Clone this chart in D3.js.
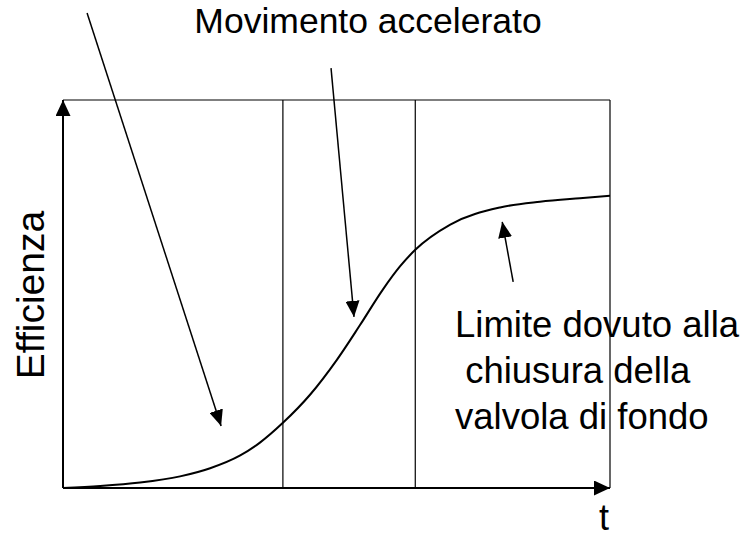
<!DOCTYPE html>
<html>
<head>
<meta charset="utf-8">
<script src="https://cdn.jsdelivr.net/npm/d3@7"></script>
<style>
  body { margin: 0; background: #fff; }
  text { font-family: "Liberation Sans", Arial, sans-serif; fill: #000; }
</style>
</head>
<body>
<div id="graph"></div>
<script>
const width = 744
const height = 538

// curve: time (0-100) vs efficiency (0-100)
const tValues = [0, 6.8, 14.1, 21.4, 26.9, 32.4, 36.0, 40.2, 45.2, 50.1, 54.3, 58.5, 61.6, 64.4, 70.8, 79.9, 87.2, 94.5, 100]
const effValues = [0, 0.5, 1.4, 3.0, 5.1, 8.4, 11.7, 16.8, 24.1, 33.1, 42.0, 51.2, 57.1, 61.4, 67.9, 72.3, 73.8, 74.7, 75.3]

// phase separators
const phaseBounds = [40.2, 64.4]

// annotation arrows [tail t, tail eff, tip t, tip eff]
const arrows = [
  [4.4, 122.4, 28.9, 16.0],
  [49.0, 108.2, 53.2, 44.1],
  [82.3, 53.1, 80.3, 68.6]
]

const title = 'Movimento accelerato'
const yLabel = 'Efficienza'
const xLabel = 't'
const noteLines = ['Limite dovuto alla', ' chiusura della', 'valvola di fondo']

const svg = d3.select('#graph')
  .append('svg')
  .attr('width', width)
  .attr('height', height)

const xScale = d3.scaleLinear().domain([0, 100]).range([63, 610])
const yScale = d3.scaleLinear().domain([0, 100]).range([488, 100])

// arrowhead marker
const defs = svg.append('defs')
const marker = (id, len, wid) => {
  defs.append('marker')
    .attr('id', id)
    .attr('viewBox', `0 0 ${len} ${wid}`)
    .attr('refX', len)
    .attr('refY', wid / 2)
    .attr('markerWidth', len)
    .attr('markerHeight', wid)
    .attr('markerUnits', 'userSpaceOnUse')
    .attr('orient', 'auto')
    .append('path')
    .attr('d', `M0,0L${len},${wid / 2}L0,${wid}Z`)
    .attr('fill', '#000')
}
marker('axisHead', 16, 15)
marker('noteHead', 16, 14)

// frame: top and right border
svg.append('line')
  .attr('x1', xScale(0)).attr('x2', xScale(100))
  .attr('y1', yScale(100)).attr('y2', yScale(100))
  .attr('stroke', '#000').attr('stroke-width', 1.2)
svg.append('line')
  .attr('x1', xScale(100)).attr('x2', xScale(100))
  .attr('y1', yScale(100)).attr('y2', yScale(0))
  .attr('stroke', '#000').attr('stroke-width', 1.2)

// phase lines
svg.selectAll('.phase')
  .data(phaseBounds)
  .enter()
  .append('line')
  .attr('class', 'phase')
  .attr('x1', d => xScale(d)).attr('x2', d => xScale(d))
  .attr('y1', yScale(100)).attr('y2', yScale(0))
  .attr('stroke', '#000').attr('stroke-width', 1.2)

// axes with arrows
svg.append('line')
  .attr('x1', xScale(0)).attr('x2', xScale(0))
  .attr('y1', yScale(0)).attr('y2', yScale(100))
  .attr('stroke', '#000').attr('stroke-width', 2)
  .attr('marker-end', 'url(#axisHead)')
svg.append('line')
  .attr('x1', xScale(0)).attr('x2', xScale(100))
  .attr('y1', yScale(0)).attr('y2', yScale(0))
  .attr('stroke', '#000').attr('stroke-width', 2)
  .attr('marker-end', 'url(#axisHead)')

// efficiency curve
const line = d3.line()
  .x((d, i) => xScale(tValues[i]))
  .y(d => yScale(d))
  .curve(d3.curveMonotoneX)

svg.append('path')
  .datum(effValues)
  .attr('d', line)
  .attr('fill', 'none')
  .attr('stroke', '#000')
  .attr('stroke-width', 2)

// annotation arrows
svg.selectAll('.note')
  .data(arrows)
  .enter()
  .append('line')
  .attr('class', 'note')
  .attr('x1', d => xScale(d[0])).attr('y1', d => yScale(d[1]))
  .attr('x2', d => xScale(d[2])).attr('y2', d => yScale(d[3]))
  .attr('stroke', '#000').attr('stroke-width', 1.5)
  .attr('marker-end', 'url(#noteHead)')

// labels
svg.append('text')
  .attr('x', 368).attr('y', 33)
  .attr('text-anchor', 'middle')
  .style('font-size', '35.5px')
  .text(title)

svg.append('text')
  .attr('transform', 'translate(44,295) rotate(-90)')
  .attr('text-anchor', 'middle')
  .style('font-size', '39px')
  .text(yLabel)

svg.append('text')
  .attr('x', 604).attr('y', 530)
  .attr('text-anchor', 'middle')
  .style('font-size', '36px')
  .text(xLabel)

svg.append('text')
  .attr('x', 455).attr('y', 337)
  .style('font-size', '36.5px')
  .style('white-space', 'pre')
  .selectAll('tspan')
  .data(noteLines)
  .enter()
  .append('tspan')
  .attr('x', 455)
  .attr('dy', (d, i) => i === 0 ? 0 : 46)
  .text(d => d)
</script>
</body>
</html>
